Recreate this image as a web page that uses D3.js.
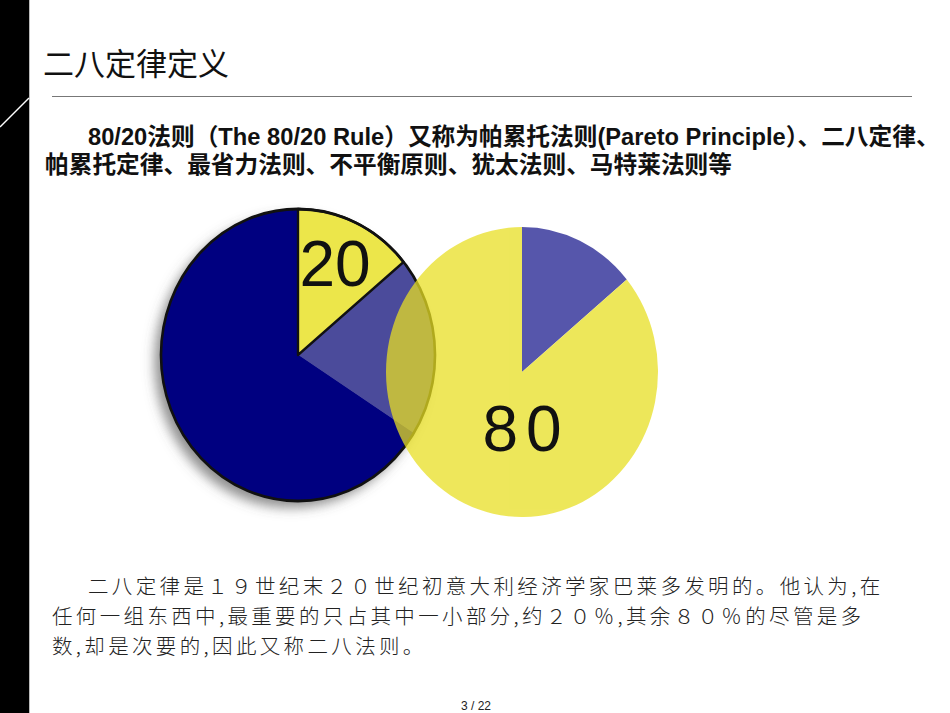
<!DOCTYPE html>
<html><head><meta charset="utf-8">
<script src="https://cdn.jsdelivr.net/npm/d3@7"></script>
<style>
html,body{margin:0;padding:0;background:#fff;}
svg{display:block;}
</style></head>
<body>
<script>
// ---- data ----
const title = "二八定律定义";
const introLines = [
  "80/20法则（The 80/20 Rule）又称为帕累托法则(Pareto Principle）、二八定律、",
  "帕累托定律、最省力法则、不平衡原则、犹太法则、马特莱法则等"
];
const bodyLines = [
  "二八定律是１９世纪末２０世纪初意大利经济学家巴莱多发明的。他认为,在",
  "任何一组东西中,最重要的只占其中一小部分,约２０％,其余８０％的尽管是多",
  "数,却是次要的,因此又称二八法则。"
];
const pageLabel = "3 / 22";
const leftCategories = ["20", "其余甲", "其余乙"];
const leftValues = [14, 20, 66];
const rightCategories = ["少数", "80"];
const rightValues = [14, 86];
const bigLabels = ["20", "80"];

// ---- drawing ----
const W = 950, H = 713;
const svg = d3.select("body").append("svg").attr("width", W).attr("height", H);

const defs = svg.append("defs");
const f = defs.append("filter").attr("id","shadow").attr("x","-30%").attr("y","-30%").attr("width","160%").attr("height","160%");
f.append("feDropShadow").attr("dx",-7).attr("dy",7).attr("stdDeviation",6)
  .attr("flood-color","#555").attr("flood-opacity",0.65);

// left black band
svg.append("rect").attr("x",0).attr("y",0).attr("width",29).attr("height",H).attr("fill","#000");
svg.append("line").attr("x1",29.5).attr("x2",29.5).attr("y1",0).attr("y2",H).attr("stroke","#bbb").attr("stroke-width",1);
svg.append("line").attr("x1",0).attr("y1",127).attr("x2",29).attr("y2",98).attr("stroke","#fff").attr("stroke-width",1.5);

// title
svg.append("text").attr("x",43).attr("y",61).attr("dominant-baseline","central")
  .attr("font-family","'Noto Sans CJK SC', sans-serif").attr("font-size",31).attr("fill","#111")
  .text(title);
svg.append("line").attr("x1",52).attr("x2",912).attr("y1",96.5).attr("y2",96.5).attr("stroke","#777").attr("stroke-width",1);

// intro bold text
const introX = [88, 45], introY = [137, 165];
introLines.forEach((t,i)=>{
  svg.append("text").attr("x",introX[i]).attr("y",introY[i]).attr("dominant-baseline","central")
    .attr("font-family","'Liberation Sans', Arial, 'Noto Sans CJK SC', sans-serif")
    .attr("font-weight","bold").attr("font-size",23.7).attr("fill","#111").text(t);
});

// ---- pies ----
const pie = d3.pie().sort(null).value(d=>d);

// left pie
const L = {cx:298, cy:355, r:146, sx:137/146};
const leftColors = ["#ece64a", "#4b4b9b", "#000080"];
const gL = svg.append("g").attr("transform",`translate(${L.cx},${L.cy}) scale(${L.sx},1)`);
const arcL = d3.arc().innerRadius(0).outerRadius(L.r);
gL.append("ellipse").attr("rx",L.r).attr("ry",L.r).attr("fill","#000080").attr("filter","url(#shadow)");
const leftArcs = pie(leftValues);
gL.selectAll("path.s").data(leftArcs).join("path").attr("class","s")
  .attr("d",arcL).attr("fill",(d,i)=>leftColors[i]);
gL.append("path").attr("d",arcL(leftArcs[0])).attr("fill","none").attr("stroke","#111").attr("stroke-width",2.5).attr("stroke-linejoin","round");
gL.append("circle").attr("r",L.r).attr("fill","none").attr("stroke","#111").attr("stroke-width",2.8);

// right pie (semi-transparent)
const R = {cx:522, cy:372, r:145, sx:136/145};
const rightColors = ["#1c1c8e", "#e8df22"];
const gR = svg.append("g").attr("transform",`translate(${R.cx},${R.cy}) scale(${R.sx},1)`).attr("opacity",0.74);
const arcR = d3.arc().innerRadius(0).outerRadius(R.r);
gR.selectAll("path").data(pie(rightValues)).join("path")
  .attr("d",arcR).attr("fill",(d,i)=>rightColors[i]);

// big labels
svg.append("text").attr("x",335).attr("y",264).attr("text-anchor","middle").attr("dominant-baseline","central")
  .attr("font-family","'Liberation Sans', Arial, sans-serif").attr("font-size",64).attr("fill","#111")
  .text(bigLabels[0]);
svg.append("text").attr("x",526).attr("y",429).attr("text-anchor","middle").attr("dominant-baseline","central")
  .attr("font-family","'Liberation Sans', Arial, sans-serif").attr("font-size",64).attr("fill","#111")
  .attr("letter-spacing",8).text(bigLabels[1]);

// body text
const bodyX = [88, 52, 52], bodyY = [585, 615, 645];
bodyLines.forEach((t,i)=>{
  svg.append("text").attr("x",bodyX[i]).attr("y",bodyY[i]).attr("dominant-baseline","central")
    .attr("font-family","'Noto Sans CJK SC', sans-serif").attr("font-size",20.5).attr("fill","#222")
    .attr("letter-spacing",3.35).attr("font-weight",300).text(t);
});

// page number
svg.append("text").attr("x",476).attr("y",706).attr("text-anchor","middle").attr("dominant-baseline","central")
  .attr("font-family","'Liberation Sans', Arial, sans-serif").attr("font-size",12).attr("fill","#222").text(pageLabel);
</script>
</body></html>
